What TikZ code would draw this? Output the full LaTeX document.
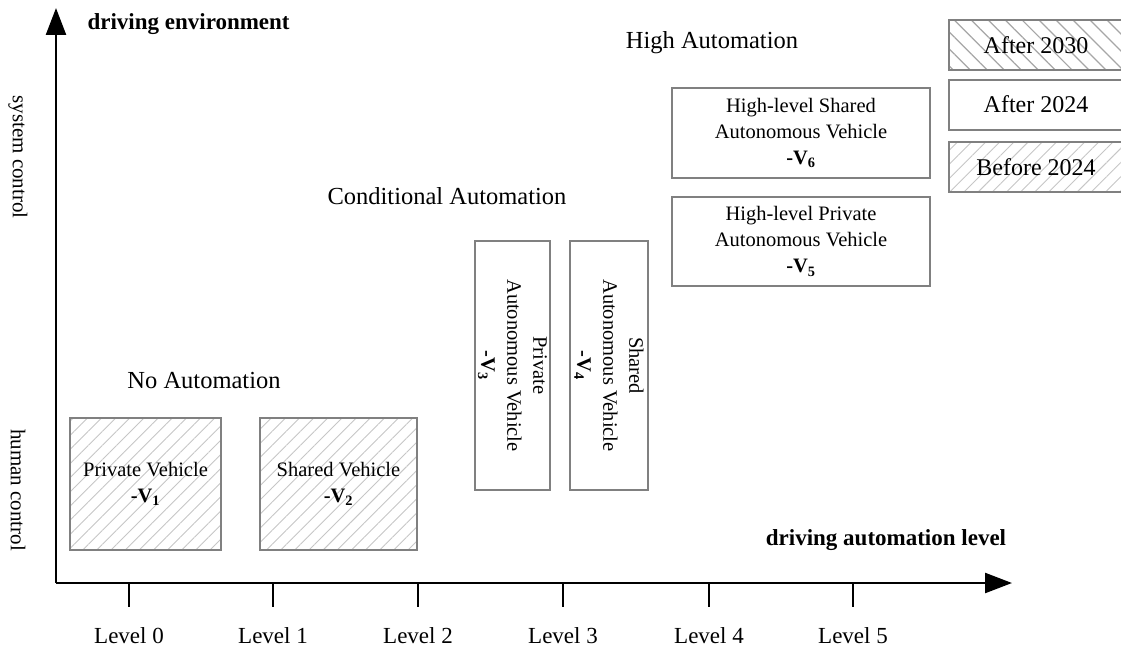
\documentclass[tikz,border=0pt]{standalone}
\usepackage{fontspec}
\setmainfont{Liberation Serif}
\usetikzlibrary{arrows.meta,patterns.meta}

\begin{document}
\begin{tikzpicture}
  [x=1pt,y=-1pt,
   axis/.style={line width=2.4pt,-{Triangle[length=27pt,width=20pt]}},
   vbox/.style={draw=gray,line width=2pt,align=center,inner sep=0pt,
     font=\fontsize{20.5}{26}\selectfont},
   hatched/.style={pattern={Lines[angle=45,distance=10pt,line width=0.9pt]},
     pattern color=gray!45},
   backhatched/.style={pattern={Lines[angle=-45,distance=12pt,line width=1.2pt]},
     pattern color=gray!70},
   keybox/.style={vbox,font=\fontsize{24}{28}\selectfont,minimum width=174pt,
     minimum height=50pt},
   stage/.style={font=\fontsize{24.5}{28}\selectfont},
   axislabel/.style={font=\fontsize{23}{26}\selectfont\bfseries},
   sidelabel/.style={font=\fontsize{21}{24}\selectfont,rotate=-90}
  ]
  \useasboundingbox (0,0) rectangle (1121,661);

  % axes
  \coordinate (o) at (56,583);
  \coordinate (ytop) at (56,8);
  \coordinate (xend) at (1012,583);
  \draw[axis] (o) -- (ytop);
  \draw[axis] (o) -- (xend);

  \node[axislabel,anchor=west] (env) at (84,24) {driving environment};
  \node[axislabel] (auto) at (886,540) {driving automation level};
  \node[sidelabel] (sys) at (18,157) {system control};
  \node[sidelabel] (hum) at (18,490) {human control};

  % level ticks
  \foreach \i/\x in {0/129,1/273,2/418,3/563,4/709,5/853}
  {
    \coordinate (t\i) at (\x,583);
    \draw[line width=2pt] (t\i) -- ++(0,24);
    \node[font=\fontsize{23}{26}\selectfont] (lv\i) at (\x,636) {Level \i};
  }

  % stages
  \node[stage] (none) at (204,381) {No Automation};
  \node[stage] (cond) at (447,196) {Conditional Automation};
  \node[stage] (high) at (712,43) {High Automation};

  % vehicles
  \node[vbox,hatched,minimum width=151pt,minimum height=132pt]
    (v1) at (145.5,484) {Private Vehicle\\\textbf{-V\textsubscript{1}}};
  \node[vbox,hatched,minimum width=157pt,minimum height=132pt]
    (v2) at (338.5,484) {Shared Vehicle\\\textbf{-V\textsubscript{2}}};
  \node[vbox,minimum width=249pt,minimum height=75pt,rotate=-90]
    (v3) at (512.5,365.5) {Private\\Autonomous Vehicle\\\textbf{-V\textsubscript{3}}};
  \node[vbox,minimum width=249pt,minimum height=78pt,rotate=-90]
    (v4) at (609,365.5) {Shared\\Autonomous Vehicle\\\textbf{-V\textsubscript{4}}};
  \node[vbox,minimum width=258pt,minimum height=89pt]
    (v5) at (801,241.5) {High-level Private\\Autonomous Vehicle\\\textbf{-V\textsubscript{5}}};
  \node[vbox,minimum width=258pt,minimum height=90pt]
    (v6) at (801,133) {High-level Shared\\Autonomous Vehicle\\\textbf{-V\textsubscript{6}}};

  % legend
  \node[keybox,backhatched] (k2030) at (1036,45) {After 2030};
  \node[keybox] (k2024) at (1036,104.5) {After 2024};
  \node[keybox,hatched] (kpre) at (1036,167) {Before 2024};
\end{tikzpicture}
\end{document}
